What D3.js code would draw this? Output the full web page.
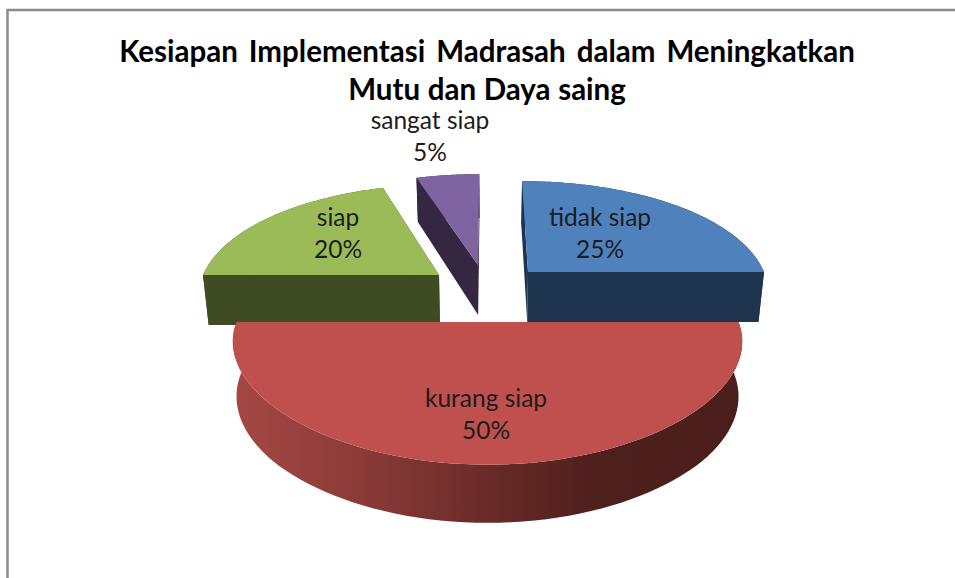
<!DOCTYPE html>
<html>
<head>
<meta charset="utf-8">
<script src="https://cdn.jsdelivr.net/npm/d3@7/dist/d3.min.js"></script>
<style>
html,body{margin:0;padding:0;background:#fff;overflow:hidden}
svg{display:block}
text{font-family:Lato,"Open Sans",sans-serif;fill:#1c1c1c}
</style>
</head>
<body>
<svg id="chart" width="955" height="578"></svg>
<script>
// data
const categories = ["tidak siap", "kurang siap", "siap", "sangat siap"];
const values = [25, 50, 20, 5];
const titleLines = ["Kesiapan Implementasi Madrasah dalam Meningkatkan", "Mutu dan Daya saing"];

// style
const topColors = ["#4f81bd", "#c0504d", "#9bbb59", "#8064a2"];
const sideColors = ["#1f344f", "url(#redSide)", "#3e4b23", "#352742"];
const titleWordSpacing = [3.8, 0.5];

// layout of each exploded slice (apex, radius) and of its label
const sliceLayout = [
  {x: 528, y: 272, r: 236, lx: 600, ly: 226},
  {x: 487.5, y: 322, r: 251, lx: 486, ly: 407},
  {x: 439, y: 275, r: 236, lx: 338, ly: 226},
  {x: 478, y: 265, r: 236, lx: 430, ly: 129}
];
const vanishX = 487, persp = 0.222, xPersp = 0.17, planeY = 111, depth = 50, depthPersp = 0.14, baseShrink = 0.98;

const svg = d3.select("#chart");
const W = 955, H = 578;

// gradient on the rim of the big slice
const grad = svg.append("defs").append("linearGradient")
  .attr("id", "redSide").attr("gradientUnits", "userSpaceOnUse")
  .attr("x1", 232).attr("x2", 742).attr("y1", 0).attr("y2", 0);
[[0, "#a64845"], [0.3, "#853835"], [0.55, "#622825"], [0.72, "#4d1f1d"], [1, "#4b1e1c"]]
  .forEach(([o, c]) => grad.append("stop").attr("offset", o).attr("stop-color", c));

// chart frame: left and top edges only
svg.append("path")
  .attr("d", d3.line()([[7.5, H], [7.5, 10], [W, 10]]))
  .attr("fill", "none").attr("stroke", "#8a8a8a").attr("stroke-width", 2.5);

// title
svg.append("g").selectAll("text").data(titleLines).join("text")
  .attr("x", 487).attr("y", (d, i) => 62 + i * 38)
  .attr("text-anchor", "middle")
  .attr("font-size", 29.5).attr("font-weight", 700)
  .attr("word-spacing", (d, i) => titleWordSpacing[i])
  .style("fill", "#000")
  .text(d => d);

// pie angles, then a perspective projection of the tilted disc
const pie = d3.pie().sort(null).value(d => d)(values);
const rScale = d3.scaleLinear().domain([0, 1]);

function project(s, theta, rad, z) {
  const u = Math.sin(theta) * rad, v = Math.cos(theta) * rad;
  rScale.range([0, s.r]);
  let x = vanishX + (s.x + (u < 0 ? -rScale(-u) : rScale(u)) - vanishX) / (1 + xPersp * v);
  let y = s.y - planeY * v / (1 + persp * v);
  y += z * depth / (1 + depthPersp * v);
  const shrink = (1 - baseShrink) * Math.max(0, Math.min(1, 1 + 1.5 * v));
  x = vanishX + (x - vanishX) * (1 - shrink * z);
  return [x, y];
}
function rim(s, a0, a1, z) {
  const n = 80;
  return d3.range(n + 1).map(i => project(s, a0 + (a1 - a0) * i / n, 1, z));
}
const line = d3.line().curve(d3.curveLinear);

const slices = pie.map((p, i) => ({p, i, s: sliceLayout[i]}));
// paint order: back slices first, big front slice last
const order = [3, 2, 0, 1];

order.forEach(i => {
  const {p, s} = slices[i];
  const g = svg.append("g");
  const a0 = p.startAngle, a1 = p.endAngle;
  const apexTop = project(s, 0, 0, 0), apexBot = project(s, 0, 0, 1);
  const sideColor = sideColors[i];
  // two radial cut faces
  [a0, a1].forEach(a => {
    g.append("path")
      .attr("d", line([project(s, a, 1, 0), apexTop, apexBot, project(s, a, 1, 1)]) + "Z")
      .attr("fill", i === 1 ? "#4b1e1c" : sideColor);
  });
  // outer wall
  g.append("path")
    .attr("d", line(rim(s, a0, a1, 0).concat(rim(s, a0, a1, 1).reverse())) + "Z")
    .attr("fill", sideColor);
  // top face
  g.append("path")
    .attr("d", line([apexTop].concat(rim(s, a0, a1, 0))) + "Z")
    .attr("fill", topColors[i]);
});

// labels
const labels = svg.append("g").selectAll("g").data(slices).join("g");
labels.append("text")
  .attr("x", d => d.s.lx).attr("y", d => d.s.ly)
  .attr("text-anchor", "middle").attr("font-size", 24.5)
  .text(d => categories[d.i]);
labels.append("text")
  .attr("x", d => d.s.lx).attr("y", d => d.s.ly + 32)
  .attr("text-anchor", "middle").attr("font-size", 24.5)
  .text(d => values[d.i] + "%");
</script>
</body>
</html>
